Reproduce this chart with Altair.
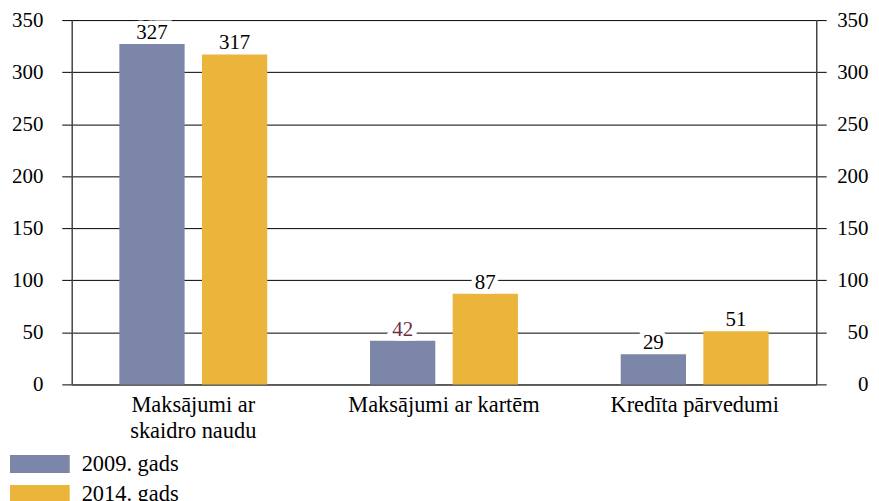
import altair as alt
import pandas as pd

categories = ["Maksājumi ar skaidro naudu", "Maksājumi ar kartēm", "Kredīta pārvedumi"]
series = ["2009. gads", "2014. gads"]
values_2009 = [327, 42, 29]
values_2014 = [317, 87, 51]
y_ticks = [0, 50, 100, 150, 200, 250, 300, 350]

rows = []
for c, v in zip(categories, values_2009):
    rows.append({"category": c, "series": series[0], "value": v})
for c, v in zip(categories, values_2014):
    rows.append({"category": c, "series": series[1], "value": v})
df = pd.DataFrame(rows)

FONT = "Liberation Serif, Times New Roman, serif"
FS = 21
FS_BIG = 22.5

x_enc = alt.X(
    "category:N",
    sort=categories,
    scale=alt.Scale(paddingInner=0.41, paddingOuter=0.19),
    axis=alt.Axis(
        title=None,
        ticks=False,
        labelAngle=0,
        labelFont=FONT,
        labelFontSize=FS_BIG,
        labelColor="black",
        labelPadding=9,
        labelLineHeight=26,
        labelLimit=400,
        domainColor="#555555",
        domainWidth=1.5,
        labelExpr="datum.label == 'Maksājumi ar skaidro naudu' ? ['Maksājumi ar', 'skaidro naudu'] : datum.label",
    ),
)
xo_enc = alt.XOffset("series:N", sort=series, scale=alt.Scale(paddingInner=0.21, paddingOuter=0))
y_scale = alt.Scale(domain=[0, 350], nice=False)

base = alt.Chart(df).encode(x=x_enc, xOffset=xo_enc)

bars = base.mark_bar().encode(
    y=alt.Y(
        "value:Q",
        scale=y_scale,
        axis=alt.Axis(
            orient="left",
            title=None,
            values=y_ticks,
            grid=True,
            gridColor="black",
            gridOpacity=1,
            gridWidth=1,
            tickSize=10,
            tickColor="black",
            domainColor="#444444",
            domainWidth=1.5,
            labelFont=FONT,
            labelFontSize=FS,
            labelColor="black",
            labelPadding=19,
        ),
    ),
    color=alt.Color(
        "series:N",
        sort=series,
        scale=alt.Scale(domain=series, range=["#7b86a8", "#ebb53c"]),
        legend=alt.Legend(
            title=None,
            orient="none",
            legendX=-62,
            legendY=437,
            direction="vertical",
            symbolType="M-1,-0.3H1V0.3H-1Z",
            symbolSize=3600,
            symbolStrokeWidth=0,
            symbolOpacity=1,
            clipHeight=18,
            rowPadding=7,
            labelOffset=12,
            labelFont=FONT,
            labelFontSize=FS_BIG,
            labelColor="black",
            labelLimit=300,
            padding=0,
        ),
    ),
)

halo = base.mark_text(
    baseline="alphabetic", dy=-5, font=FONT, fontSize=FS, stroke="white", strokeWidth=9, fill="white"
).encode(
    y=alt.Y("value:Q", scale=y_scale, axis=None),
    text=alt.Text("value:Q"),
)

labels = base.mark_text(baseline="alphabetic", dy=-5, font=FONT, fontSize=FS).encode(
    y=alt.Y(
        "value:Q",
        scale=y_scale,
        axis=alt.Axis(
            orient="right",
            title=None,
            values=y_ticks,
            grid=False,
            tickSize=10,
            tickColor="black",
            domainColor="#444444",
            domainWidth=1.5,
            labelFont=FONT,
            labelFontSize=FS,
            labelColor="black",
            labelAlign="right",
            labelPadding=42,
        ),
    ),
    text=alt.Text("value:Q"),
    color=alt.condition(
        "datum.category == 'Maksājumi ar kartēm' && datum.series == '2009. gads'",
        alt.value("#6b2f45"),
        alt.value("black"),
    ),
)

chart = (
    alt.layer(bars, halo, labels)
    .resolve_axis(y="independent")
    .properties(
        width=748,
        height=366,
        autosize=alt.AutoSizeParams(type="none"),
        padding={"left": 64, "top": 11, "right": 55, "bottom": 116},
    )
    .configure(font=FONT)
    .configure_view(stroke=None)
)

chart.save("out.html", embed_options={"renderer": "svg", "actions": False})
